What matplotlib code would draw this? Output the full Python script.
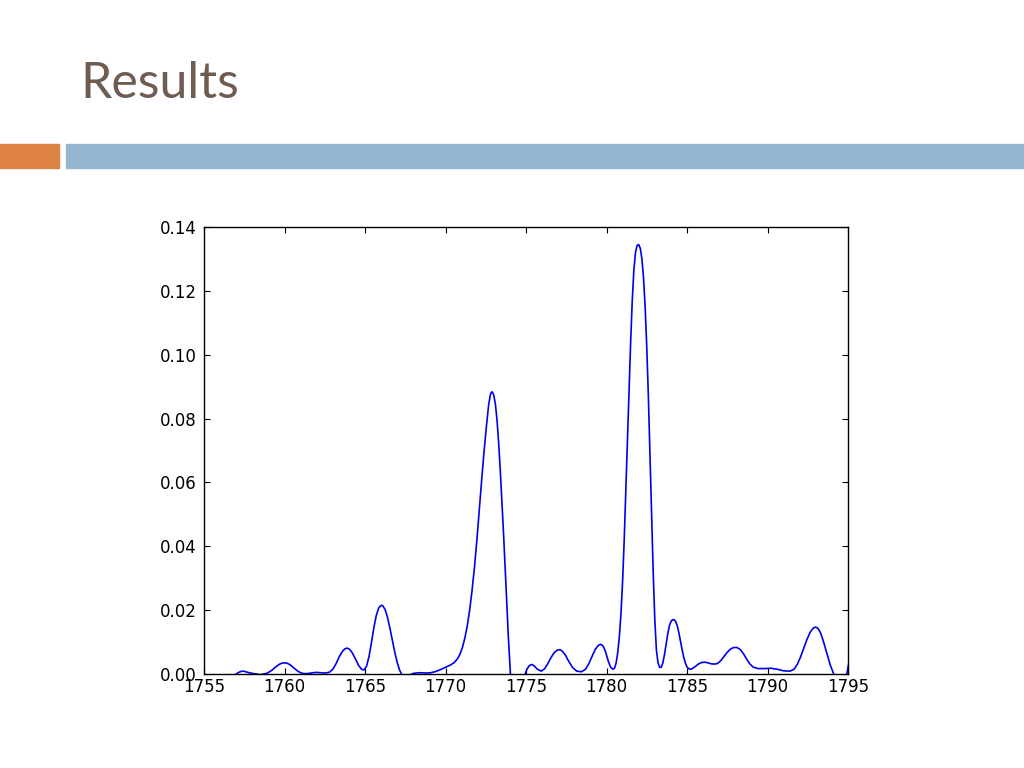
import numpy as np
import matplotlib
matplotlib.use("Agg")
import matplotlib.pyplot as plt
from matplotlib.patches import Rectangle

# values (10 per line, both lists grouped alike)
years = [
    1757.0, 1757.15, 1757.3, 1757.45, 1757.6, 1757.8, 1758.1, 1758.5, 1758.9, 1759.2,
    1759.45, 1759.7, 1759.85, 1760.0, 1760.15, 1760.35, 1760.6, 1760.85, 1761.1, 1761.35,
    1761.65, 1761.95, 1762.25, 1762.55, 1762.8, 1763.0, 1763.2, 1763.4, 1763.6, 1763.75,
    1763.9, 1764.05, 1764.2, 1764.4, 1764.6, 1764.8, 1764.95, 1765.1, 1765.25, 1765.4,
    1765.55, 1765.7, 1765.85, 1766.0, 1766.1, 1766.25, 1766.4, 1766.55, 1766.7, 1766.85,
    1767.0, 1767.15, 1767.3, 1767.5, 1767.75, 1768.0, 1768.4, 1768.8, 1769.1, 1769.4,
    1769.7, 1770.0, 1770.3, 1770.55, 1770.75, 1770.9, 1771.05, 1771.2, 1771.35, 1771.5,
    1771.65, 1771.8, 1771.95, 1772.1, 1772.25, 1772.4, 1772.55, 1772.68, 1772.8, 1772.9,
    1773.0, 1773.1, 1773.2, 1773.3, 1773.4, 1773.5, 1773.6, 1773.7, 1773.8, 1773.9,
    1774.0, 1774.1, 1774.3, 1774.5, 1774.7, 1774.85, 1774.95, 1775.05, 1775.2, 1775.35,
    1775.5, 1775.7, 1775.95, 1776.15, 1776.35, 1776.55, 1776.75, 1776.95, 1777.1, 1777.25,
    1777.45, 1777.65, 1777.9, 1778.15, 1778.45, 1778.7, 1778.9, 1779.1, 1779.3, 1779.5,
    1779.65, 1779.8, 1779.95, 1780.1, 1780.25, 1780.4, 1780.5, 1780.6, 1780.7, 1780.8,
    1780.9, 1781.0, 1781.1, 1781.2, 1781.3, 1781.4, 1781.5, 1781.6, 1781.7, 1781.8,
    1781.9, 1782.0, 1782.1, 1782.2, 1782.3, 1782.4, 1782.5, 1782.6, 1782.7, 1782.8,
    1782.9, 1783.0, 1783.1, 1783.2, 1783.3, 1783.4, 1783.5, 1783.6, 1783.7, 1783.8,
    1783.9, 1784.0, 1784.1, 1784.2, 1784.3, 1784.4, 1784.5, 1784.6, 1784.7, 1784.8,
    1784.9, 1785.0, 1785.15, 1785.3, 1785.5, 1785.7, 1785.9, 1786.1, 1786.3, 1786.5,
    1786.7, 1786.9, 1787.1, 1787.3, 1787.5, 1787.7, 1787.9, 1788.1, 1788.3, 1788.5,
    1788.7, 1788.9, 1789.1, 1789.4, 1789.8, 1790.2, 1790.6, 1791.0, 1791.4, 1791.65,
    1791.85, 1792.05, 1792.25, 1792.45, 1792.65, 1792.85, 1793.0, 1793.15, 1793.3, 1793.45,
    1793.6, 1793.75, 1793.9, 1794.05, 1794.2, 1794.45, 1794.7, 1794.9, 1795.0, 1795.1,
]
values = [
    0.0000, 0.0005, 0.0008, 0.0009, 0.0007, 0.0004, 0.0001, -0.0002, 0.0002, 0.0011,
    0.0022, 0.0031, 0.0034, 0.0035, 0.0034, 0.0029, 0.0018, 0.0008, 0.0002, 0.0001,
    0.0003, 0.0005, 0.0004, 0.0003, 0.0006, 0.0015, 0.0032, 0.0054, 0.0071, 0.0079,
    0.0081, 0.0077, 0.0067, 0.0048, 0.0027, 0.0014, 0.0013, 0.0025, 0.0055, 0.0098,
    0.0145, 0.0183, 0.0207, 0.0215, 0.0214, 0.0202, 0.0177, 0.0143, 0.0105, 0.0068,
    0.0036, 0.0012, -0.0003, -0.0008, -0.0004, 0.0002, 0.0004, 0.0003, 0.0004, 0.0008,
    0.0014, 0.0021, 0.0028, 0.0036, 0.0048, 0.0062, 0.0083, 0.0112, 0.0150, 0.0200,
    0.0262, 0.0335, 0.0420, 0.0515, 0.0610, 0.0700, 0.0780, 0.0843, 0.0878, 0.0884,
    0.0873, 0.0845, 0.0795, 0.0725, 0.0640, 0.0545, 0.0445, 0.0340, 0.0230, 0.0120,
    0.0030, -0.0060, -0.0140, -0.0160, -0.0100, -0.0035, 0.0000, 0.0014, 0.0026, 0.0030,
    0.0026, 0.0015, 0.0009, 0.0016, 0.0032, 0.0051, 0.0067, 0.0075, 0.0076, 0.0072,
    0.0059, 0.0040, 0.0020, 0.0009, 0.0007, 0.0015, 0.0032, 0.0055, 0.0077, 0.0090,
    0.0093, 0.0087, 0.0068, 0.0042, 0.0022, 0.0015, 0.0018, 0.0035, 0.0068, 0.0118,
    0.0190, 0.0290, 0.0420, 0.0570, 0.0730, 0.0890, 0.1040, 0.1170, 0.1265, 0.1320,
    0.1342, 0.1345, 0.1333, 0.1300, 0.1240, 0.1150, 0.1025, 0.0870, 0.0690, 0.0500,
    0.0320, 0.0170, 0.0075, 0.0035, 0.0021, 0.0021, 0.0035, 0.0060, 0.0092, 0.0124,
    0.0150, 0.0164, 0.0170, 0.0170, 0.0164, 0.0150, 0.0128, 0.0102, 0.0075, 0.0052,
    0.0034, 0.0022, 0.0015, 0.0016, 0.0023, 0.0031, 0.0036, 0.0037, 0.0035, 0.0032,
    0.0031, 0.0033, 0.0042, 0.0055, 0.0068, 0.0078, 0.0083, 0.0083, 0.0077, 0.0064,
    0.0047, 0.0032, 0.0022, 0.0017, 0.0017, 0.0018, 0.0015, 0.0010, 0.0009, 0.0015,
    0.0030, 0.0053, 0.0081, 0.0108, 0.0131, 0.0144, 0.0147, 0.0142, 0.0128, 0.0106,
    0.0080, 0.0053, 0.0028, 0.0008, -0.0012, -0.0040, -0.0035, -0.0008, 0.0020, 0.0050,
]
x_ticks = [1755, 1760, 1765, 1770, 1775, 1780, 1785, 1790, 1795]
y_ticks = [0.00, 0.02, 0.04, 0.06, 0.08, 0.10, 0.12, 0.14]

fig = plt.figure(figsize=(10.24, 7.68), dpi=100)

# slide decoration
fig.text(80 / 1024, 1 - 84 / 768, "Results", fontsize=36, color="#6e5c50",
         family="Lato", va="center", ha="left")
fig.patches.append(Rectangle((0, 1 - 168 / 768), 59 / 1024, 24 / 768,
                             transform=fig.transFigure, color="#de8344", zorder=0))
fig.patches.append(Rectangle((66 / 1024, 1 - 168 / 768), 1 - 66 / 1024, 24 / 768,
                             transform=fig.transFigure, color="#93b6d2", zorder=0))

ax = fig.add_axes([204 / 1024, 94 / 768, 644 / 1024, 447 / 768])
ax.plot(years, values, color="#0000ee", linewidth=1.2)
ax.set_xlim(1755, 1795)
ax.set_ylim(0, 0.14)
ax.set_xticks(x_ticks)
ax.set_yticks(y_ticks)
ax.set_yticklabels(["%.2f" % v for v in y_ticks])
ax.tick_params(direction="in", top=True, right=True, length=4, width=0.8,
               labelsize=12, pad=5, colors="black")
ax.tick_params(axis="x", pad=3)
for sp in ax.spines.values():
    sp.set_linewidth(1.0)

fig.savefig("out.png", dpi=100)
